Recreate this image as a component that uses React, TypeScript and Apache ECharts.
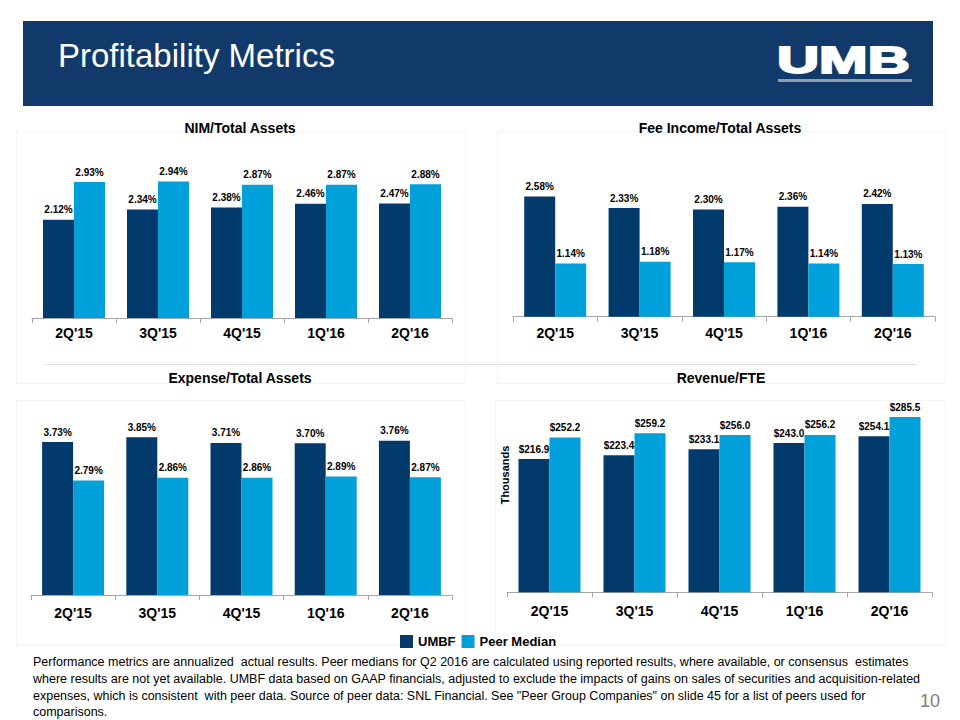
import React, { useEffect, useRef } from "react";
import * as echarts from "echarts";

const categories = ["2Q'15", "3Q'15", "4Q'15", "1Q'16", "2Q'16"];
const seriesNames = ["UMBF", "Peer Median"];
const chartTitles = ["NIM/Total Assets", "Fee Income/Total Assets", "Expense/Total Assets", "Revenue/FTE"];

const nimUmbf = [2.12, 2.34, 2.38, 2.46, 2.47];
const nimPeer = [2.93, 2.94, 2.87, 2.87, 2.88];
const feeUmbf = [2.58, 2.33, 2.3, 2.36, 2.42];
const feePeer = [1.14, 1.18, 1.17, 1.14, 1.13];
const expUmbf = [3.73, 3.85, 3.71, 3.7, 3.76];
const expPeer = [2.79, 2.86, 2.86, 2.89, 2.87];
const revUmbf = [216.9, 223.4, 233.1, 243.0, 254.1];
const revPeer = [252.2, 259.2, 256.0, 256.2, 285.5];

const footnoteLines = [
  "Performance metrics are annualized  actual results. Peer medians for Q2 2016 are calculated using reported results, where available, or consensus  estimates",
  "where results are not yet available. UMBF data based on GAAP financials, adjusted to exclude the impacts of gains on sales of securities and acquisition-related",
  "expenses, which is consistent  with peer data. Source of peer data: SNL Financial. See \"Peer Group Companies\" on slide 45 for a list of peers used for",
  "comparisons.",
];

const FONT = "'Liberation Sans', Arial, sans-serif";
const DARK = "#023b6b";
const LIGHT = "#00a0da";

export default function App() {
  const ref = useRef<HTMLDivElement>(null);

  useEffect(() => {
    document.body.style.margin = "0";
    const chart = echarts.init(ref.current!, null, { renderer: "svg", width: 960, height: 720 });

    const grids = [
      { left: 32, top: 155.6, width: 420, height: 162.4 },
      { left: 513, top: 176.9, width: 422, height: 139.8 },
      { left: 31, top: 410.5, width: 421, height: 184.5 },
      { left: 507, top: 408.1, width: 425, height: 184.2 },
    ];
    const maxes = [3.5, 3.0, 4.5, 300];
    const labelMargins = [8, 9, 11, 12];
    const data = [
      [nimUmbf, nimPeer],
      [feeUmbf, feePeer],
      [expUmbf, expPeer],
      [revUmbf, revPeer],
    ];
    const titlePos = [
      { x: 240, y: 121 },
      { x: 720, y: 121 },
      { x: 240, y: 371 },
      { x: 721, y: 371 },
    ];

    const pctFmt = (p: any) => p.value.toFixed(2) + "%";
    const usdFmt = (p: any) => "$" + p.value.toFixed(1);

    const series: any[] = [];
    data.forEach((pair, gi) => {
      pair.forEach((vals, si) => {
        series.push({
          type: "bar",
          name: seriesNames[si],
          xAxisIndex: gi,
          yAxisIndex: gi,
          data: vals,
          barWidth: 31,
          barGap: "0%",
          itemStyle: { color: si === 0 ? DARK : LIGHT },
          label: {
            show: true,
            position: "top",
            distance: 5,
            formatter: gi === 3 ? usdFmt : pctFmt,
            color: "#000",
            fontFamily: FONT,
            fontWeight: "bold",
            fontSize: 10,
          },
        });
      });
    });

    const graphic: any[] = [
      { type: "rect", shape: { x: 23, y: 21, width: 910, height: 85 }, style: { fill: "#113a6b" } },
      {
        type: "text",
        x: 58,
        y: 55,
        style: {
          text: "Profitability Metrics",
          fill: "#ffffff",
          font: "33px " + FONT,
          textAlign: "left",
          textVerticalAlign: "middle",
        },
      },
      {
        type: "text",
        x: 777,
        y: 60,
        scaleX: 1.62,
        scaleY: 1.02,
        style: {
          text: "UMB",
          fill: "#ffffff",
          stroke: "#ffffff",
          lineWidth: 1.8,
          font: "bold 36px " + FONT,
          textAlign: "left",
          textVerticalAlign: "middle",
        },
      },
      { type: "rect", shape: { x: 778, y: 79, width: 134, height: 3 }, style: { fill: "#8d9db3" } },
      // faint chart frames
      { type: "rect", shape: { x: 16.5, y: 131.5, width: 449, height: 252 }, style: { fill: "none", stroke: "#f4f4f4", lineWidth: 1 } },
      { type: "rect", shape: { x: 497.5, y: 131.5, width: 448, height: 252 }, style: { fill: "none", stroke: "#f4f4f4", lineWidth: 1 } },
      { type: "rect", shape: { x: 16.5, y: 400.5, width: 449, height: 245 }, style: { fill: "none", stroke: "#f4f4f4", lineWidth: 1 } },
      { type: "rect", shape: { x: 495.5, y: 400.5, width: 450, height: 245 }, style: { fill: "none", stroke: "#f4f4f4", lineWidth: 1 } },
      { type: "line", shape: { x1: 45, y1: 364.5, x2: 917, y2: 364.5 }, style: { stroke: "#e0e0e0", lineWidth: 1 } },
      {
        type: "text",
        x: 505,
        y: 475,
        rotation: Math.PI / 2,
        style: {
          text: "Thousands",
          fill: "#000",
          font: "bold 11px " + FONT,
          textAlign: "center",
          textVerticalAlign: "middle",
        },
      },
      {
        type: "text",
        x: 930,
        y: 701,
        style: {
          text: "10",
          fill: "#7f7f7f",
          font: "18px " + FONT,
          textAlign: "center",
          textVerticalAlign: "middle",
        },
      },
    ];
    const lineYs = [662, 679, 696, 712];
    footnoteLines.forEach((t, i) => {
      graphic.push({
        type: "text",
        x: 33,
        y: lineYs[i],
        style: {
          text: t,
          fill: "#000",
          font: "12.5px " + FONT,
          textAlign: "left",
          textVerticalAlign: "middle",
        },
      });
    });

    const option: any = {
      animation: false,
      backgroundColor: "#ffffff",
      title: chartTitles.map((t, i) => ({
        text: t,
        left: titlePos[i].x,
        top: titlePos[i].y,
        textAlign: "center",
        padding: 0,
        textStyle: { fontFamily: FONT, fontWeight: "bold", fontSize: 14, color: "#000" },
      })),
      legend: {
        data: seriesNames,
        left: 400,
        top: 635,
        padding: 0,
        itemWidth: 13,
        itemHeight: 13,
        itemGap: 6,
        icon: "rect",
        textStyle: { fontFamily: FONT, fontWeight: "bold", fontSize: 13, color: "#000", padding: [0, 0, 0, 0] },
        selectedMode: false,
      },
      grid: grids,
      xAxis: grids.map((_, i) => ({
        type: "category",
        gridIndex: i,
        data: categories,
        axisLine: { show: true, lineStyle: { color: "#a6a6a6", width: 1 } },
        axisTick: { show: true, length: 5, lineStyle: { color: "#a6a6a6" } },
        axisLabel: {
          margin: labelMargins[i],
          fontFamily: FONT,
          fontWeight: "bold",
          fontSize: 14,
          color: "#000",
        },
      })),
      yAxis: grids.map((_, i) => ({
        type: "value",
        gridIndex: i,
        min: 0,
        max: maxes[i],
        show: false,
        splitLine: { show: false },
      })),
      series,
      graphic,
    };

    chart.setOption(option);
    return () => chart.dispose();
  }, []);

  return <div ref={ref} style={{ position: "absolute", left: 0, top: 0, width: 960, height: 720 }} />;
}
